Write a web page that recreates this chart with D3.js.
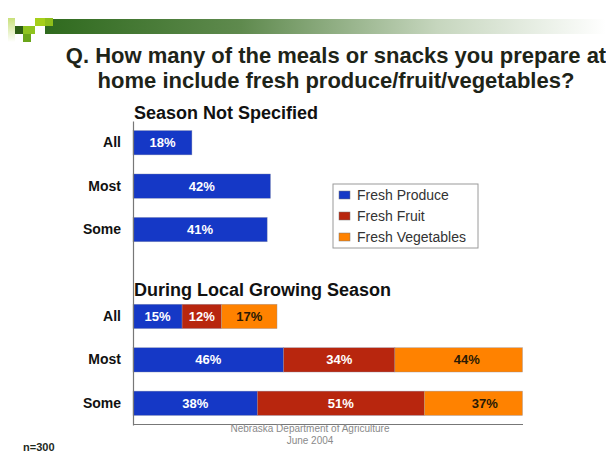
<!DOCTYPE html>
<html><head><meta charset="utf-8">
<script src="https://cdn.jsdelivr.net/npm/d3@7"></script>
<style>body{margin:0;background:#fff}svg{display:block}text{font-family:Arial,"Liberation Sans",sans-serif}</style>
</head><body>
<svg id="c" width="606" height="453"></svg>
<script>
const titleLines = ["Q. How many of the meals or snacks you prepare at", "home include fresh produce/fruit/vegetables?"];
const sectionTitles = ["Season Not Specified", "During Local Growing Season"];
const rowKeys = ["nsAll", "nsMost", "nsSome", "gap", "gsAll", "gsMost", "gsSome"];
const rowLabels = ["All", "Most", "Some", "", "All", "Most", "Some"];
const seriesNames = ["Fresh Produce", "Fresh Fruit", "Fresh Vegetables"];
const seriesColors = ["#1538c6", "#b8260e", "#ff8200"];
const labelColors = ["#ffffff", "#ffffff", "#2a1a05"];
const producePct = [18, 42, 41, null, 15, 46, 38];
const fruitPct = [null, null, null, null, 12, 34, 51];
const vegPct = [null, null, null, null, 17, 44, 37];
const xMax = 119;
const footerLines = ["Nebraska Department of Agriculture", "June 2004"];
const sampleNote = "n=300";

const svg = d3.select("#c");

// header decoration
const grad = svg.append("defs").append("linearGradient").attr("id", "hg").attr("x1", 0).attr("x2", 1);
grad.append("stop").attr("offset", "0").attr("stop-color", "#2f6a1e");
grad.append("stop").attr("offset", "0.35").attr("stop-color", "#5f8a4e");
grad.append("stop").attr("offset", "0.7").attr("stop-color", "#c6d6be");
grad.append("stop").attr("offset", "1").attr("stop-color", "#ffffff");
const vg = svg.select("defs").append("linearGradient").attr("id", "vg").attr("x1", 0).attr("x2", 0).attr("y1", 0).attr("y2", 1);
vg.append("stop").attr("offset", "0").attr("stop-color", "#c8e07a");
vg.append("stop").attr("offset", "1").attr("stop-color", "#ffffff");
svg.append("rect").attr("x", 45).attr("y", 19).attr("width", 561).attr("height", 15).attr("fill", "url(#hg)");
const sq = [[8,18,7,24,"url(#vg)"],[15,26,8,8,"#2e5e14"],[23,26,12,8,"#8fc31f"],[35,18,10,8,"#a6cf1a"],[45,18,8,8,"#8fbf1a"],[23,34,8,8,"#6aa51a"],[31,10,8,8,"#ffffff"]];
svg.selectAll("rect.sq").data(sq).join("rect").attr("class","sq")
  .attr("x", d => d[0]).attr("y", d => d[1]).attr("width", d => d[2]).attr("height", d => d[3]).attr("fill", d => d[4]);

// title
svg.selectAll("text.title").data(titleLines).join("text").attr("class", "title")
  .attr("x", 336).attr("y", (d, i) => 63 + i * 25).attr("text-anchor", "middle")
  .attr("font-size", 22).attr("font-weight", "bold").attr("fill", "#1e2418").text(d => d);

// scales
const x = d3.scaleLinear().domain([0, xMax]).range([133, 522.5]).clamp(true);
const xu = x.copy().clamp(false);
const y = d3.scaleBand().domain(rowKeys).range([121, 425]).paddingInner(0.44).paddingOuter(0.22);

// stacked data
const rows = rowKeys.map((k, i) => ({key: k, vals: [producePct[i], fruitPct[i], vegPct[i]]}));
const segs = [];
rows.forEach(r => {
  let acc = 0;
  r.vals.forEach((v, s) => {
    if (v == null) return;
    segs.push({key: r.key, s, v, x0: acc, x1: acc + v});
    acc += v;
  });
});

const g = svg.append("g");
g.selectAll("rect.bar").data(segs).join("rect").attr("class", "bar")
  .attr("x", d => x(d.x0)).attr("y", d => y(d.key))
  .attr("width", d => x(d.x1) - x(d.x0)).attr("height", y.bandwidth())
  .attr("fill", d => seriesColors[d.s]).attr("stroke", "#8a8fa8").attr("stroke-width", 0.6).attr("stroke-opacity", 0.6);
g.selectAll("text.val").data(segs).join("text").attr("class", "val")
  .attr("x", d => (xu(d.x0) + xu(d.x1)) / 2).attr("y", d => y(d.key) + y.bandwidth() / 2 + 4.5)
  .attr("text-anchor", "middle").attr("font-size", 13).attr("font-weight", "bold")
  .attr("fill", d => labelColors[d.s]).text(d => d.v + "%");

// axes
const yAxis = d3.axisLeft(y).tickSize(0).tickPadding(12).tickFormat((d, i) => rowLabels[i]);
const ya = svg.append("g").attr("transform", "translate(133,0)").call(yAxis);
ya.select(".domain").attr("stroke", "#777").attr("stroke-width", 1.2);
ya.selectAll("text").attr("font-size", 14).attr("font-weight", "bold").attr("fill", "#111")
  .attr("font-family", "Arial,'Liberation Sans',sans-serif");
const xAxis = d3.axisBottom(x).tickValues([]).tickSize(0).tickSizeOuter(0);
const xa = svg.append("g").attr("transform", "translate(0,424)").call(xAxis);
xa.select(".domain").attr("stroke", "#777").attr("stroke-width", 1.2);

// section titles
svg.selectAll("text.sec").data(sectionTitles).join("text").attr("class", "sec")
  .attr("x", 134).attr("y", (d, i) => i === 0 ? 119 : 296)
  .attr("font-size", 18).attr("font-weight", "bold").attr("fill", "#111").text(d => d);

// legend
const lg = svg.append("g").attr("transform", "translate(333,184)");
lg.append("rect").attr("width", 145).attr("height", 64).attr("fill", "#fff").attr("stroke", "#9a9a9a").attr("stroke-width", 1);
const li = lg.selectAll("g.li").data(seriesNames).join("g").attr("class", "li")
  .attr("transform", (d, i) => `translate(6,${11 + i * 21})`);
li.append("rect").attr("y", -4).attr("width", 11).attr("height", 8).attr("fill", (d, i) => seriesColors[i]).attr("stroke", "#777").attr("stroke-width", 0.5);
li.append("text").attr("x", 18).attr("y", 4.5).attr("font-size", 14).attr("fill", "#333").text(d => d);

// footer
svg.selectAll("text.foot").data(footerLines).join("text").attr("class", "foot")
  .attr("x", 310).attr("y", (d, i) => 432 + i * 12).attr("text-anchor", "middle")
  .attr("font-size", 10).attr("fill", "#8a8a8a").text(d => d);
svg.append("text").attr("x", 23).attr("y", 451).attr("font-size", 11).attr("font-weight", "bold").attr("fill", "#1e2a1e").text(sampleNote);
</script>
</body></html>
